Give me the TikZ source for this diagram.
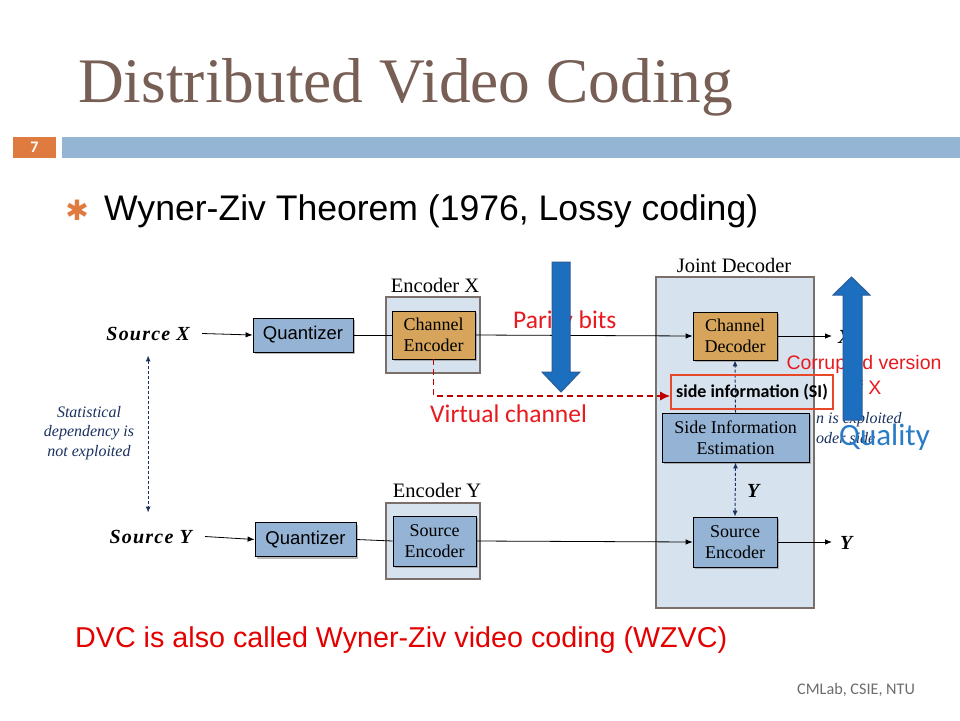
\documentclass[tikz,border=0pt]{standalone}
\usepackage{fontspec}
\setmainfont{Liberation Serif}
\setsansfont{Liberation Sans}
\newfontfamily\arial{Liberation Sans}
\newfontfamily\calibri{Carlito}
\newfontfamily\dejavu{DejaVu Sans}
\newfontfamily\srcfont[LetterSpace=6]{Liberation Serif}
\usetikzlibrary{arrows.meta,shadows}
\definecolor{titlec}{HTML}{775F55}
\definecolor{orangec}{HTML}{E07B3F}
\definecolor{barblue}{HTML}{94B5D3}
\definecolor{contf}{HTML}{D6E2EE}
\definecolor{contb}{HTML}{7A6F6B}
\definecolor{boxblue}{HTML}{95B3D5}
\definecolor{tanc}{HTML}{D6A55B}
\definecolor{navy}{HTML}{1A3160}
\definecolor{redtxt}{HTML}{E81A1F}
\definecolor{darkred}{HTML}{C00000}
\definecolor{sired}{HTML}{E8482A}
\definecolor{arrblue}{HTML}{1C6FBE}
\definecolor{arredge}{HTML}{2B5C97}
\definecolor{qualc}{HTML}{2A7BC6}
\definecolor{grayt}{HTML}{6D6D6D}
\tikzset{
  container/.style={draw=contb, line width=1.6pt, fill=contf, inner sep=0pt},
  bluebox/.style={draw=black, line width=0.8pt, fill=boxblue, inner sep=0pt,
    drop shadow={shadow xshift=2pt, shadow yshift=-2pt, fill=black!50, opacity=0.55},
    font=\fontsize{18}{21}\selectfont, align=center},
  tanbox/.style={bluebox, fill=tanc},
  quant/.style={bluebox, font=\arial\fontsize{18.5}{20}\selectfont},
  arr/.style={-{Latex[length=7pt,width=5.5pt]}, line width=0.8pt},
  navdash/.style={draw=navy, line width=1pt, dash pattern=on 3pt off 2pt},
  navtip/.style={-{Latex[length=6pt,width=5pt]}},
  navtips/.style={{Latex[length=6pt,width=5pt]}-{Latex[length=6pt,width=5pt]}},
  srclabel/.style={inner sep=0pt, font=\srcfont\bfseries\itshape\fontsize{20}{22}\selectfont},
  enclabel/.style={inner sep=0pt, anchor=base, font=\fontsize{20.5}{22}\selectfont},
  redtext/.style={inner sep=0pt, text=redtxt, font=\calibri\fontsize{25.5}{28}\selectfont},
  bigarrow/.style={fill=arrblue, draw=arredge, line width=1pt},
  navtext/.style={inner sep=0pt, text=navy, font=\itshape\fontsize{16}{19.5}\selectfont}
}
\begin{document}
\begin{tikzpicture}[x=1pt,y=-1pt]
\useasboundingbox (0,0) rectangle (960,720);
\fill[white] (0,0) rectangle (960,720);

% slide header
\node[anchor=base west, inner sep=0pt, text=titlec] (title) at (78,102)
  {\resizebox{655pt}{!}{\fontsize{61}{61}\selectfont Distributed Video Coding}};
\node[fill=orangec, minimum width=43pt, minimum height=21pt, inner sep=0pt,
  text=white, font=\calibri\bfseries\fontsize{16}{16}\selectfont] (pagenum) at (34.5,147.5) {7};
\node[fill=barblue, minimum width=898pt, minimum height=21pt, inner sep=0pt] (bar) at (511,147.5) {};
\node[inner sep=0pt, text=orangec, font=\dejavu\fontsize{28}{28}\selectfont] (bullet) at (77,210) {✱};
\node[anchor=base west, inner sep=0pt] (wz) at (104,220)
  {\resizebox{654pt}{!}{\arial\fontsize{35.5}{36}\selectfont Wyner-Ziv Theorem (1976, Lossy coding)}};

% containers
\node[container, minimum width=94pt, minimum height=76pt] (encX) at (433,335) {};
\node[container, minimum width=94pt, minimum height=76pt] (encY) at (433,541) {};
\node[container, minimum width=158pt, minimum height=331pt] (jd) at (735,442.5) {};
\node[enclabel] (encXl) at (435,292) {Encoder X};
\node[enclabel] (encYl) at (437,497) {Encoder Y};
\node[enclabel] (jdl) at (734,272) {Joint Decoder};

% partly hidden text right of the joint decoder
\node[navtext, anchor=base west] (hid1) at (816,423) {n is exploited};
\node[navtext, anchor=base west] (hid2) at (816,443) {oder side};

% source labels
\node[srclabel, anchor=base east] (srcX) at (190,340) {Source X};
\node[srclabel, anchor=base east] (srcY) at (192,543) {Source Y};

% blocks
\node[quant, minimum width=100pt, minimum height=34pt] (q1) at (303,335) {Quantizer};
\node[quant, minimum width=101pt, minimum height=34pt] (q2) at (305.5,539.5) {Quantizer};
\node[tanbox, minimum width=83pt, minimum height=48pt] (ce) at (433.5,335) {Channel\\Encoder};
\node[bluebox, minimum width=83pt, minimum height=50pt] (se) at (434.5,541) {Source\\Encoder};
\node[tanbox, minimum width=84pt, minimum height=48pt] (cd) at (735,336) {Channel\\Decoder};
\node[bluebox, minimum width=147pt, minimum height=49pt] (sie) at (735.5,437.5) {Side Information\\Estimation};
\node[bluebox, minimum width=84pt, minimum height=50pt] (sd) at (735,542) {Source\\Encoder};

% connectors
\coordinate (xout) at (832,336);
\coordinate (yout) at (832,542);
\draw[arr] ([xshift=12pt]srcX.east) -- (q1.west);
\draw[arr] ([xshift=13pt]srcY.east) -- (q2.west);
\draw[line width=0.8pt] (q1.east) -- (ce.west);
\draw[line width=0.8pt] (q2.east) -- (se.west);
\draw[arr] (ce.east) -- (cd.west);
\draw[arr] (se.east) -- (sd.west);
\draw[arr] (cd.east) -- (xout);
\draw[arr] (sd.east) -- (yout);
\draw[navdash, navtip] (sie.north) -- (cd.south);
\draw[navdash, navtips] (sie.south) -- (sd.north);
\draw[navdash, navtips, shorten <=15pt, shorten >=17pt] (srcX.south) -- (srcX.south |- srcY.north);

% side information box
\node[draw=sired, line width=1.6pt, minimum width=162pt, minimum height=34pt, inner sep=0pt,
  font=\calibri\bfseries\fontsize{18}{20}\selectfont] (si) at (752,392) {side information (SI)};
\draw[darkred, line width=1.4pt, dash pattern=on 6pt off 4pt, -{Latex[length=10pt,width=9pt]}]
  (ce.south) |- ([yshift=-4pt]si.west);

% labels
\node[navtext, align=center] (stat) at (89,433)
  {Statistical\\dependency is\\not exploited};
\node[srclabel, anchor=base west] (ylab) at (747,497) {Y};
\node[srclabel, anchor=base west] (yout2) at (840,549) {Y};
\node[srclabel, anchor=base west] (xlab) at (838,343) {X};
\node[inner sep=0pt, text=redtxt, align=center, font=\arial\fontsize{19.5}{25}\selectfont] (corr) at (864,375)
  {Corrupted version\\of X\hspace{6pt}};
\node[redtext, anchor=base west] (parity) at (513,328) {Parity bits};
\node[redtext, anchor=base west] (virt) at (430,422) {Virtual channel};

% big arrows
\draw[bigarrow] (552,262) -- (570,262) -- (570,372) -- (580,372) -- (561,392) -- (542,372) -- (552,372) -- cycle;
\draw[bigarrow] (843,420) -- (843,295) -- (833,295) -- (851.5,277) -- (870,295) -- (862,295) -- (862,420) -- cycle;
\node[anchor=base west, inner sep=0pt, text=qualc, font=\calibri\fontsize{31}{33}\selectfont] (qual) at (839,445) {Quality};

% footer
\node[anchor=base west, inner sep=0pt, text=red!90!black, font=\arial\fontsize{28.7}{30}\selectfont] (dvc) at (75,647)
  {DVC is also called Wyner-Ziv video coding (WZVC)};
\node[anchor=base west, inner sep=0pt, text=grayt, font=\calibri\fontsize{16.2}{18}\selectfont] (cml) at (797,694) {CMLab, CSIE, NTU};
\end{tikzpicture}
\end{document}
